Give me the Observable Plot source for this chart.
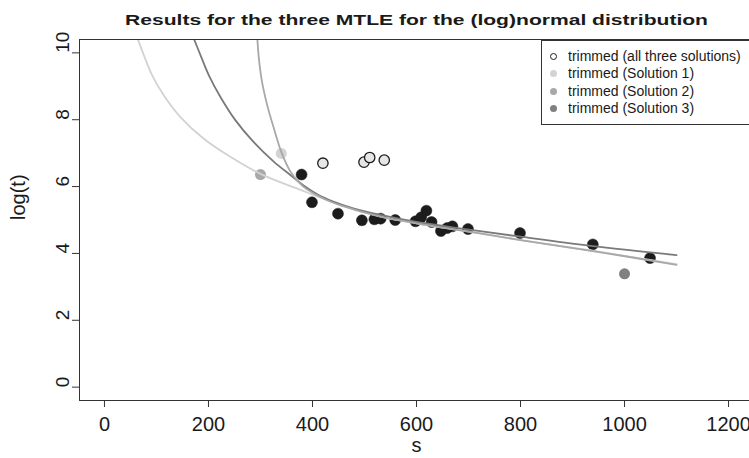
<!DOCTYPE html>
<html>
<head>
<meta charset="utf-8">
<script src="https://cdn.jsdelivr.net/npm/d3@7"></script>
<script src="https://cdn.jsdelivr.net/npm/@observablehq/plot@0.6"></script>
<style>
  html, body { margin: 0; padding: 0; background: #fff; overflow: hidden; }
  #wrap { position: relative; width: 749px; height: 458px; overflow: hidden; font-family: "Liberation Sans", Arial, sans-serif; }
  #legend { position: absolute; left: 541px; top: 40px; width: 230px; height: 85px; border: 1px solid #333; background: #fff; box-sizing: border-box; }
  .row { position: absolute; left: 0; height: 17px; line-height: 17px; font-size: 14px; color: #1a1a1a; white-space: nowrap; }
  .sym { position: absolute; left: 8px; top: 5px; width: 7px; height: 7px; border-radius: 50%; box-sizing: border-box; }
  .lab { position: absolute; left: 26px; top: 0; }
</style>
</head>
<body>
<div id="wrap"></div>
<script>
// ---- data ----
const titleText = "Results for the three MTLE for the (log)normal distribution";
const xLabel = "s";
const yLabel = "log(t)";
const xTicks = [0, 200, 400, 600, 800, 1000, 1200];
const yTicks = [0, 2, 4, 6, 8, 10];

// retained observations
const keptS = [379, 399, 449, 495, 519, 531, 559, 598, 609, 619, 629, 647, 659, 669, 699, 799, 939, 1049];
const keptT = [6.36, 5.53, 5.19, 4.99, 5.02, 5.04, 5.00, 4.96, 5.08, 5.28, 4.94, 4.67, 4.76, 4.81, 4.73, 4.61, 4.27, 3.86];

// trimmed in all three solutions
const allS = [420, 499, 510, 538];
const allT = [6.70, 6.73, 6.87, 6.79];

// trimmed in a single solution
const sol1S = [340], sol1T = [6.99];
const sol2S = [300], sol2T = [6.36];
const sol3S = [1000], sol3T = [3.39];

// fitted curves
const curve1S = [64, 76, 92, 114, 146, 191, 242, 300, 377, 454, 531, 600, 697, 800, 939, 1100];
const curve1T = [10.42, 9.92, 9.32, 8.73, 8.08, 7.43, 6.89, 6.38, 5.90, 5.45, 5.10, 4.90, 4.66, 4.40, 4.08, 3.68];
const curve2S = [294, 297, 303, 313, 326, 340, 358, 383, 420, 454, 531, 600, 697, 800, 939, 1100];
const curve2T = [10.42, 9.82, 9.13, 8.43, 7.73, 7.04, 6.44, 5.99, 5.65, 5.44, 5.10, 4.90, 4.66, 4.40, 4.07, 3.66];
const curve3S = [172, 185, 201, 223, 252, 287, 326, 358, 383, 410, 440, 480, 531, 600, 697, 800, 939, 1100];
const curve3T = [10.42, 9.92, 9.32, 8.68, 7.98, 7.33, 6.74, 6.34, 6.03, 5.76, 5.55, 5.34, 5.15, 4.94, 4.72, 4.50, 4.22, 3.95];

const legendLabels = ["trimmed (all three solutions)", "trimmed (Solution 1)", "trimmed (Solution 2)", "trimmed (Solution 3)"];

// ---- build tables ----
const zip = (xs, ys) => xs.map((x, i) => ({s: x, t: ys[i]}));
const kept = zip(keptS, keptT);
const allTrim = zip(allS, allT);
const s1 = zip(sol1S, sol1T), s2 = zip(sol2S, sol2T), s3 = zip(sol3S, sol3T);
const c1 = zip(curve1S, curve1T), c2 = zip(curve2S, curve2T), c3 = zip(curve3S, curve3T);

const col1 = "#d2d2d2", col2 = "#a8a8a8", col3 = "#7a7a7a";

const plot = Plot.plot({
  width: 749,
  height: 458,
  marginLeft: 79,
  marginRight: -4,
  marginTop: 39,
  marginBottom: 58,
  style: {fontFamily: "'Liberation Sans', Arial, sans-serif", background: "#fff", color: "#1a1a1a", overflow: "hidden"},
  x: {domain: [-48, 1248]},
  y: {domain: [-0.4, 10.4]},
  marks: [
    Plot.dot(kept, {x: "s", y: "t", r: 5.5, fill: "#1c1c1c", stroke: "#1c1c1c", strokeWidth: 0.5}),
    Plot.dot(allTrim, {x: "s", y: "t", r: 5.2, fill: "#e6e6e6", stroke: "#1c1c1c", strokeWidth: 1.3}),
    Plot.dot(s1, {x: "s", y: "t", r: 5.5, fill: "#d3d3d3"}),
    Plot.dot(s2, {x: "s", y: "t", r: 5.5, fill: "#a9a9a9"}),
    Plot.dot(s3, {x: "s", y: "t", r: 5.5, fill: "#808080"}),
    Plot.line(c1, {x: "s", y: "t", stroke: col1, strokeWidth: 1.8, curve: "catmull-rom", clip: true}),
    Plot.line(c3, {x: "s", y: "t", stroke: col3, strokeWidth: 1.8, curve: "catmull-rom", clip: true}),
    Plot.line(c2, {x: "s", y: "t", stroke: col2, strokeWidth: 1.8, curve: "catmull-rom", clip: true}),
    Plot.frame({stroke: "#333", strokeWidth: 1}),
    Plot.axisX({ticks: xTicks, tickSize: 7, tickPadding: 9, fontSize: 20, label: null, tickFormat: d3.format("d"), stroke: "#333"}),
    Plot.axisY({ticks: yTicks, tickSize: 7, tickFormat: () => "", label: null, stroke: "#333"}),
    Plot.text(yTicks, {y: d => d, text: d => String(d), frameAnchor: "left", dx: -17, rotate: -90, fontSize: 19, fill: "#1a1a1a"}),
    Plot.text([xLabel], {text: d => d, frameAnchor: "bottom", dy: 51, fontSize: 20, fill: "#1a1a1a"}),
    Plot.text([yLabel], {text: d => d, frameAnchor: "left", dx: -61, rotate: -90, fontSize: 20, fill: "#1a1a1a"}),
    Plot.text([titleText], {text: d => d, frameAnchor: "top", dy: -25, fontSize: 15, fontWeight: "bold", fill: "#1a1a1a"})
  ]
});

const wrap = document.getElementById("wrap");
wrap.appendChild(plot);

// stretch the title to the reference width
plot.querySelectorAll("text").forEach(t => {
  if (t.textContent === titleText) {
    t.setAttribute("textLength", 583);
    t.setAttribute("lengthAdjust", "spacingAndGlyphs");
  }
});

// legend
const legend = document.createElement("div");
legend.id = "legend";
const symStyles = [
  {background: "#fff", border: "1.2px solid #1c1c1c"},
  {background: "#d3d3d3"},
  {background: "#a9a9a9"},
  {background: "#808080"}
];
legendLabels.forEach((lab, i) => {
  const row = document.createElement("div");
  row.className = "row";
  row.style.top = (7 + i * 17.3) + "px";
  const sym = document.createElement("div");
  sym.className = "sym";
  Object.assign(sym.style, symStyles[i]);
  const txt = document.createElement("span");
  txt.className = "lab";
  txt.textContent = lab;
  row.appendChild(sym);
  row.appendChild(txt);
  legend.appendChild(row);
});
wrap.appendChild(legend);
</script>
</body>
</html>
